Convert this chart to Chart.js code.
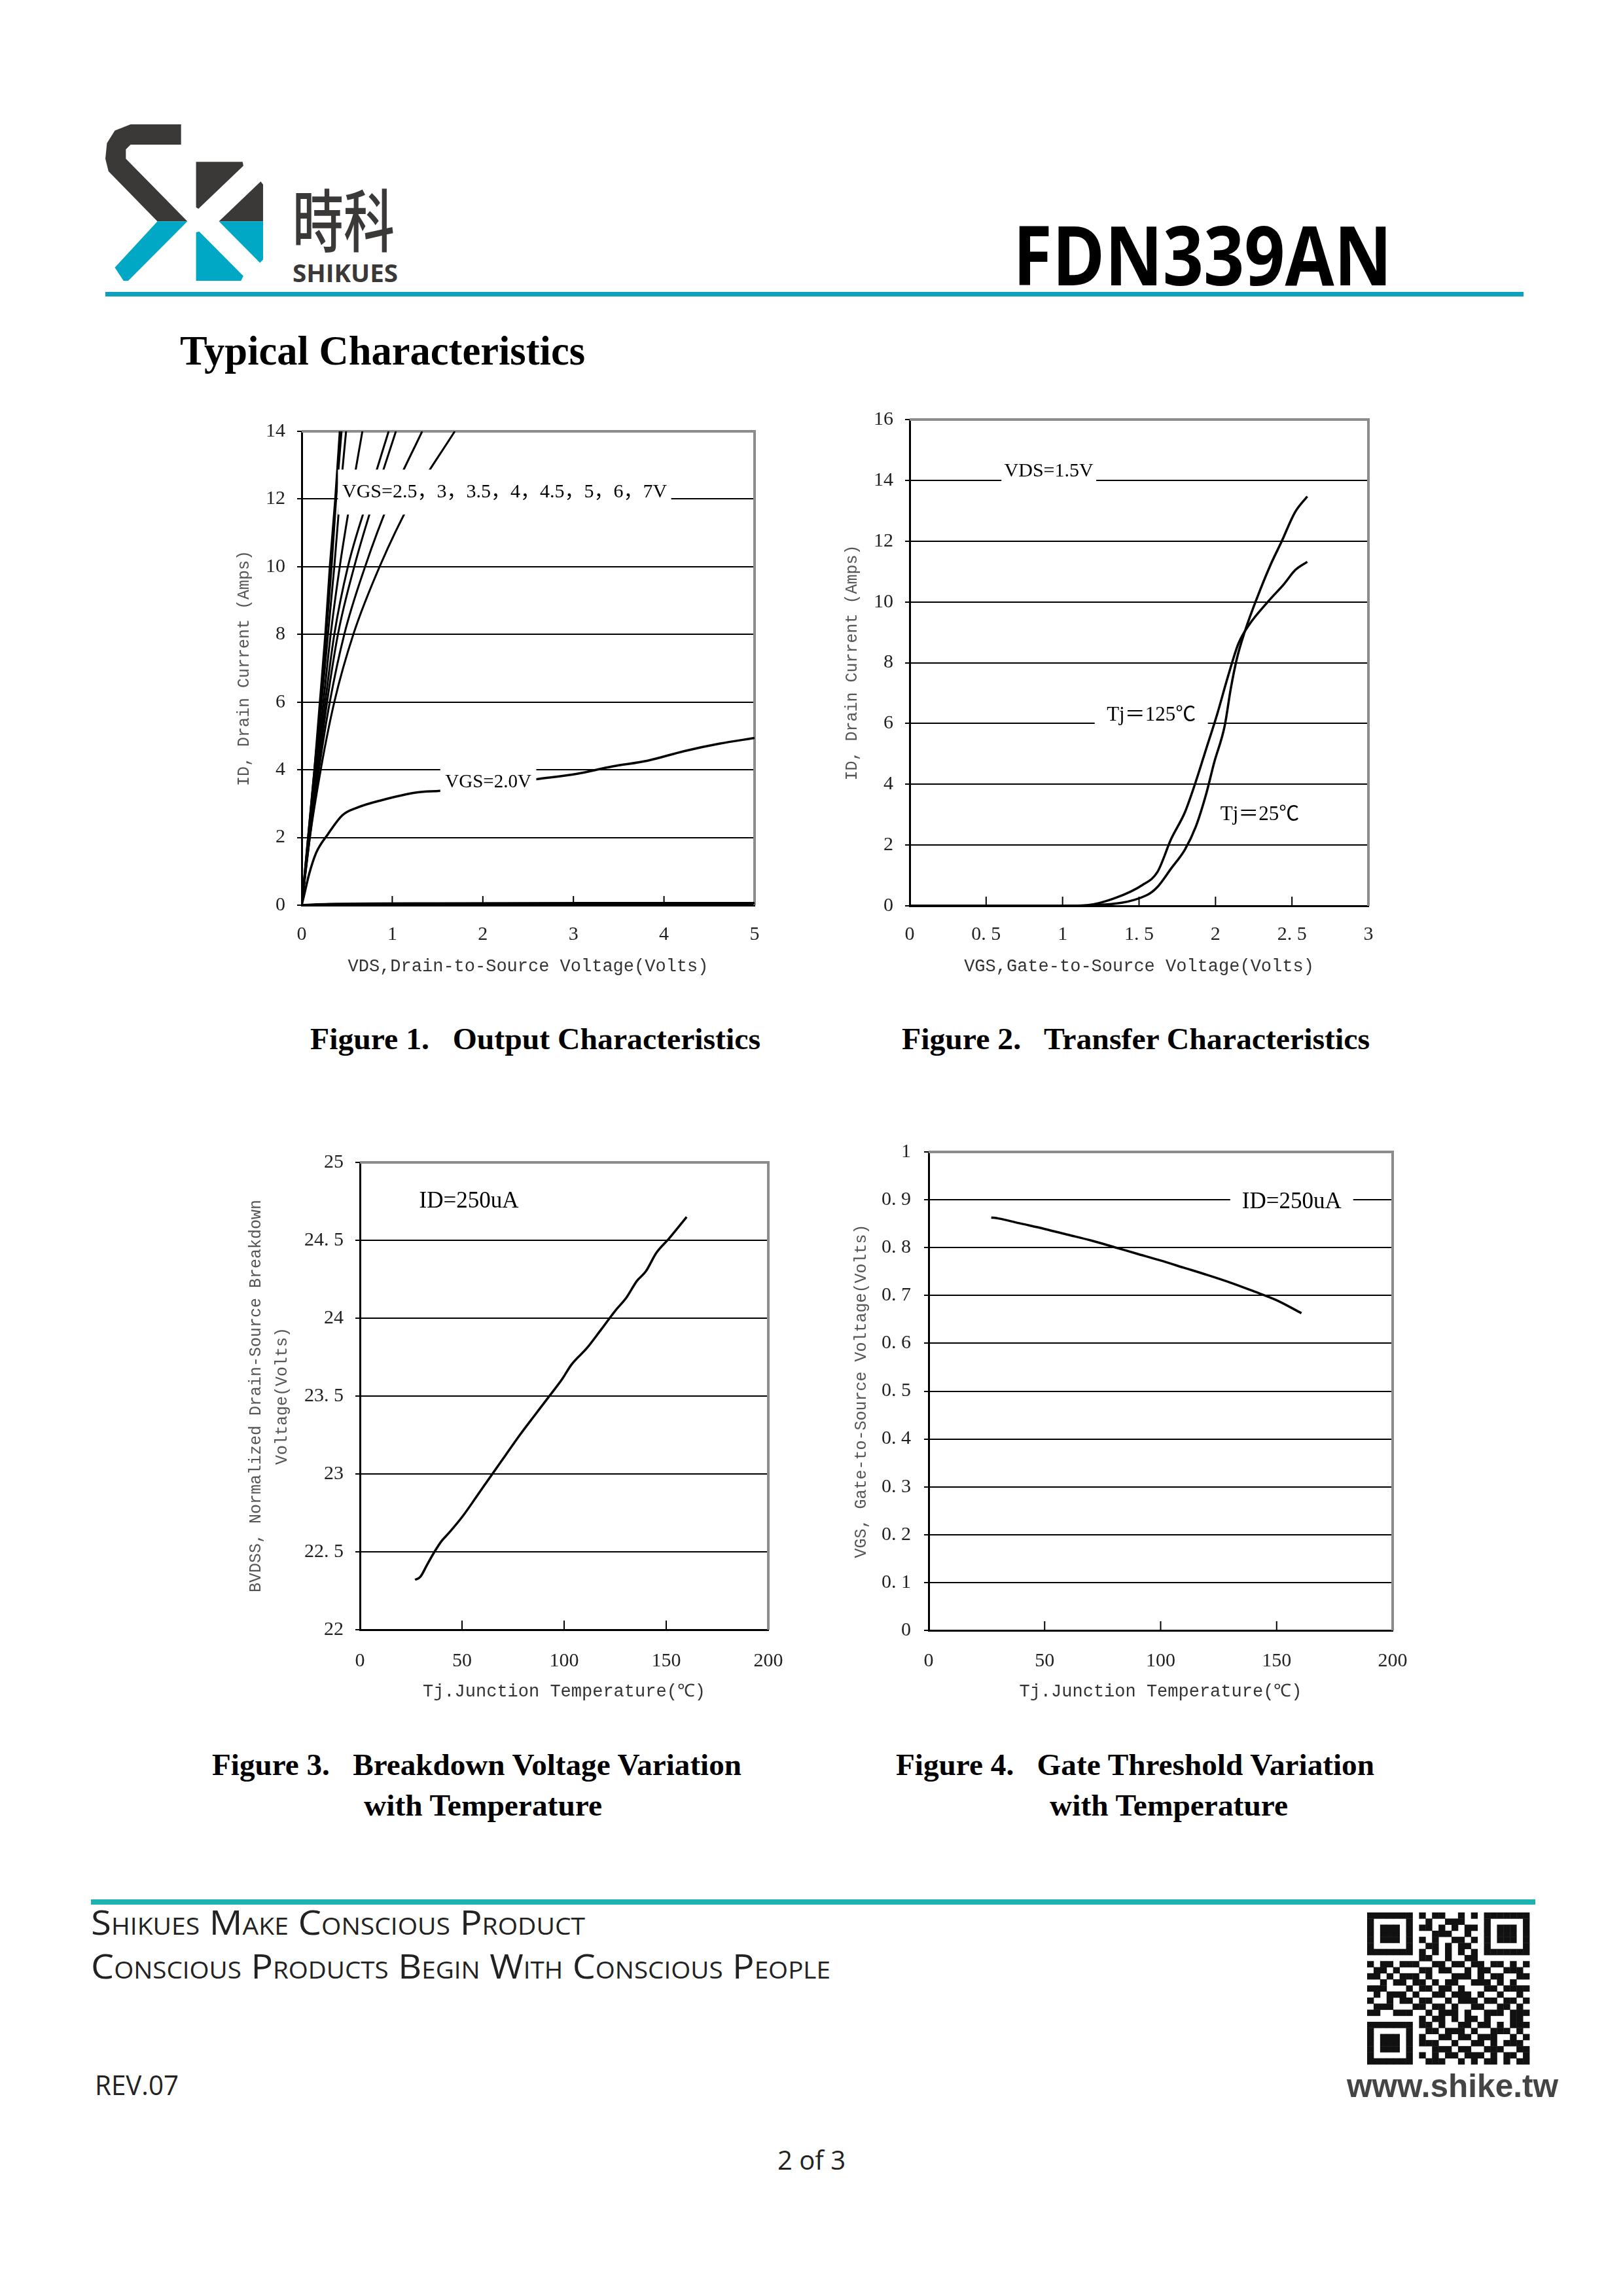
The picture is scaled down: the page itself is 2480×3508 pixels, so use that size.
<!DOCTYPE html>
<html>
<head>
<meta charset="utf-8">
<title>FDN339AN Typical Characteristics</title>
<script src="https://cdn.jsdelivr.net/npm/chart.js@4.4.1/dist/chart.umd.min.js"></script>
<style>
  html, body { margin: 0; padding: 0; background: #fff; }
  #page { position: relative; width: 2480px; height: 3508px; background: #fff; overflow: hidden; }
  #deco { position: absolute; left: 0; top: 0; }
  .plot { position: absolute; }
  .pre { white-space: pre; }
</style>
</head>
<body>
<div id="page">
<svg id="deco" width="2480" height="3508" viewBox="0 0 2480 3508" xmlns="http://www.w3.org/2000/svg">
  <!-- logo mark -->
  <g transform="translate(161,190) scale(241,239)">
    <polygon fill="#3b3838" points="0.48,0 0.48,0.13 0.16,0.13 0.13,0.16 0.13,0.22 0.52,0.62 0.33,0.62 0.02,0.30 0,0.22 0.01,0.12 0.06,0.04 0.16,0"/>
    <polygon fill="#00a8c6" points="0.33,0.62 0.52,0.62 0.145,1 0.115,1 0.06,0.915"/>
    <polygon fill="#3b3838" points="0.575,0.24 0.87,0.24 0.875,0.265 0.59,0.54 0.575,0.53"/>
    <polygon fill="#3b3838" points="0.985,0.365 1,0.385 1,0.62 0.72,0.62"/>
    <polygon fill="#00a8c6" points="0.72,0.62 1,0.62 1,0.865 0.98,0.885"/>
    <polygon fill="#00a8c6" points="0.575,0.69 0.595,0.685 0.875,0.97 0.86,1 0.575,1"/>
  </g>
  <text x="447" y="377" font-family="Noto Sans CJK TC" font-weight="500" font-size="104" fill="#3b3838" textLength="156" lengthAdjust="spacingAndGlyphs">時科</text>
  <text x="447" y="431" font-family="Open Sans" font-weight="700" font-size="37" fill="#3b3838" textLength="161" lengthAdjust="spacingAndGlyphs">SHIKUES</text>
  <text x="1548" y="436" font-family="Open Sans" font-weight="700" font-size="125" fill="#000" textLength="579" lengthAdjust="spacingAndGlyphs">FDN339AN</text>
  <rect x="161" y="446" width="2167" height="7" fill="#0fa0c0"/>
  <text x="275" y="557" font-family="Liberation Serif" font-weight="700" font-size="64" fill="#000" textLength="619" lengthAdjust="spacingAndGlyphs">Typical Characteristics</text>

  <!-- figure captions -->
  <g font-family="Liberation Serif" font-weight="700" font-size="46" fill="#000">
    <text class="pre" x="474" y="1603" textLength="688" lengthAdjust="spacingAndGlyphs">Figure 1.   Output Characteristics</text>
    <text class="pre" x="1378" y="1603" textLength="715" lengthAdjust="spacingAndGlyphs">Figure 2.   Transfer Characteristics</text>
    <text class="pre" x="324" y="2712" textLength="809" lengthAdjust="spacingAndGlyphs">Figure 3.   Breakdown Voltage Variation</text>
    <text x="556" y="2774" textLength="364" lengthAdjust="spacingAndGlyphs">with Temperature</text>
    <text class="pre" x="1369" y="2712" textLength="731" lengthAdjust="spacingAndGlyphs">Figure 4.   Gate Threshold Variation</text>
    <text x="1604" y="2774" textLength="364" lengthAdjust="spacingAndGlyphs">with Temperature</text>
  </g>

  <!-- footer -->
  <rect x="139" y="2902" width="2207" height="8" fill="#1db3b1"/>
  <g font-family="Open Sans" fill="#222" style="font-variant: small-caps">
    <text x="139" y="2956" font-size="52" textLength="755" lengthAdjust="spacingAndGlyphs">Shikues Make Conscious Product</text>
    <text x="139" y="3023" font-size="52" textLength="1130" lengthAdjust="spacingAndGlyphs">Conscious Products Begin With Conscious People</text>
  </g>
  <text x="145" y="3201" font-family="Open Sans" font-size="42" fill="#222" textLength="128" lengthAdjust="spacingAndGlyphs">REV.07</text>
  <text x="2058" y="3204" font-family="Liberation Sans" font-weight="700" font-size="50" fill="#444" textLength="323" lengthAdjust="spacingAndGlyphs">www.shike.tw</text>
  <text x="1240" y="3315" font-family="Open Sans" font-size="40" fill="#222" text-anchor="middle">2 of 3</text>
  <g id="qr" fill="#111"></g>
</svg>
<canvas id="fig1" class="plot"></canvas>
<canvas id="fig2" class="plot"></canvas>
<canvas id="fig3" class="plot"></canvas>
<canvas id="fig4" class="plot"></canvas>
</div>
<script>
// ---------- Figure 1: output characteristics (ID vs VDS) ----------
const fig1IdSteps = [0, 2, 4, 6, 8, 10, 12, 14];
const fig1Vds70 = [0, 0.07, 0.14, 0.20, 0.26, 0.31, 0.37, 0.42];
const fig1Vds60 = [0, 0.07, 0.14, 0.21, 0.27, 0.33, 0.38, 0.44];
const fig1Vds50 = [0, 0.075, 0.15, 0.22, 0.29, 0.36, 0.42, 0.49];
const fig1Vds45 = [0, 0.08, 0.16, 0.24, 0.32, 0.42, 0.54, 0.67];
const fig1Vds40 = [0, 0.08, 0.17, 0.26, 0.36, 0.51, 0.73, 0.96];
const fig1Vds35 = [0, 0.085, 0.18, 0.28, 0.40, 0.58, 0.80, 1.04];
const fig1Vds30 = [0, 0.09, 0.19, 0.31, 0.47, 0.70, 0.98, 1.33];
const fig1Vds25 = [0, 0.09, 0.21, 0.36, 0.57, 0.86, 1.22, 1.69];
const fig1Vds20 = [0, 0.04, 0.08, 0.16, 0.29, 0.45, 0.61, 0.88, 1.27, 1.53, 2.0, 2.59, 3.04, 3.43, 3.82, 4.22, 4.61, 5.0];
const fig1Id20 = [0, 0.45, 0.9, 1.55, 2.1, 2.66, 2.88, 3.1, 3.33, 3.38, 3.5, 3.72, 3.88, 4.1, 4.27, 4.55, 4.77, 4.94];
const fig1VdsLow = [0, 0.3, 1.5, 3.2, 5.0];
const fig1IdLow = [0, 0.03, 0.05, 0.06, 0.06];
const fig1XTicks = ['0', '1', '2', '3', '4', '5'];
const fig1YTicks = ['0', '2', '4', '6', '8', '10', '12', '14'];

// ---------- Figure 2: transfer characteristics (ID vs VGS) ----------
const fig2Vgs125 = [0, 1.0, 1.16, 1.34, 1.52, 1.62, 1.71, 1.80, 1.87, 1.94, 2.01, 2.08, 2.15, 2.22, 2.34, 2.45, 2.52, 2.6];
const fig2Id125 = [0, 0, 0.02, 0.25, 0.68, 1.11, 2.2, 3.08, 4.07, 5.18, 6.29, 7.52, 8.63, 9.25, 9.99, 10.6, 11.04, 11.32];
const fig2Vgs25 = [0, 1.0, 1.2, 1.55, 1.62, 1.71, 1.80, 1.87, 1.94, 1.99, 2.06, 2.1, 2.14, 2.19, 2.27, 2.36, 2.43, 2.52, 2.6];
const fig2Id25 = [0, 0, 0.02, 0.35, 0.62, 1.23, 1.85, 2.59, 3.7, 4.69, 5.92, 7.15, 8.14, 9.0, 10.11, 11.22, 11.96, 12.95, 13.47];
const fig2XTicks = ['0', '0. 5', '1', '1. 5', '2', '2. 5', '3'];
const fig2YTicks = ['0', '2', '4', '6', '8', '10', '12', '14', '16'];

// ---------- Figure 3: breakdown voltage vs Tj ----------
const fig3Tj = [27, 29.6, 33, 36.5, 40, 43.5, 50.4, 57.4, 64.3, 71.3, 78.3, 85.2, 92.2, 99.1, 103.5, 111.3, 118.3, 125.2, 130.4, 135.7, 140, 145.2, 151.3, 155.7, 160];
const fig3Bv = [22.32, 22.34, 22.42, 22.5, 22.57, 22.62, 22.73, 22.86, 22.99, 23.12, 23.25, 23.37, 23.49, 23.61, 23.7, 23.81, 23.93, 24.05, 24.13, 24.24, 24.3, 24.42, 24.51, 24.58, 24.65];
const fig3XTicks = ['0', '50', '100', '150', '200'];
const fig3YTicks = ['22', '22. 5', '23', '23. 5', '24', '24. 5', '25'];

// ---------- Figure 4: gate threshold vs Tj ----------
const fig4Tj = [27, 30, 40, 50, 60, 70, 80, 90, 100, 110, 120, 130, 140, 150, 160.7];
const fig4Vth = [0.863, 0.861, 0.850, 0.839, 0.827, 0.815, 0.801, 0.787, 0.773, 0.758, 0.743, 0.727, 0.709, 0.690, 0.663];
const fig4XTicks = ['0', '50', '100', '150', '200'];
const fig4YTicks = ['0', '0. 1', '0. 2', '0. 3', '0. 4', '0. 5', '0. 6', '0. 7', '0. 8', '0. 9', '1'];

// text notes inside the plots (data coordinates)
const fig1Notes = [
  { text: 'VGS=2.5，3，3.5，4，4.5，5，6，7V', x0: 0.40, x1: 4.08, y: 12.2, yLo: 11.54, yHi: 12.87, size: 30 },
  { text: 'VGS=2.0V', x0: 1.53, x1: 2.59, y: 3.62, yLo: 3.28, yHi: 4.1, size: 29 }
];
const fig2Notes = [
  { text: 'VDS=1.5V', x0: 0.6, x1: 1.22, y: 14.3, yLo: 13.8, yHi: 14.8, size: 30 },
  { text: 'Tj＝125℃', x0: 1.21, x1: 1.95, y: 6.27, yLo: 5.8, yHi: 6.75, size: 31 },
  { text: 'Tj＝25℃', x0: 2.0, x1: 2.58, y: 3.0, yLo: 2.6, yHi: 3.4, size: 31 }
];
const fig3Notes = [
  { text: 'ID=250uA', x0: 28.7, x1: 78, y: 24.75, size: 35 }
];
const fig4Notes = [
  { text: 'ID=250uA', x0: 130, x1: 183, y: 0.895, yLo: 0.87, yHi: 0.922, size: 35 }
];

// plot boxes on the page [left, top, right, bottom] and label anchors
const fig1Box = { plot: [461, 659, 1153, 1383], yTickRight: 436, yTitleX: 373, xTickY: 1428, xTitleY: 1477 };
const fig2Box = { plot: [1390, 641, 2091, 1384], yTickRight: 1365, yTitleX: 1302, xTickY: 1428, xTitleY: 1477 };
const fig3Box = { plot: [550, 1776, 1174, 2490], yTickRight: 525, yTitleX: 391, xTickY: 2538, xTitleY: 2585 };
const fig4Box = { plot: [1419, 1760, 2128, 2491], yTickRight: 1392, yTitleX: 1316, xTickY: 2538, xTitleY: 2585 };

function toPoints(xs, ys) {
  return xs.map((x, i) => ({ x: x, y: ys[i] }));
}

function curve(points, width) {
  return {
    data: points,
    borderColor: '#000',
    borderWidth: width || 3.5,
    pointRadius: 0,
    fill: false,
    cubicInterpolationMode: 'monotone'
  };
}

const framePlugin = {
  id: 'frame',
  beforeDatasetsDraw(chart) {
    const { ctx, chartArea: a } = chart;
    const xs = chart.scales.x;
    ctx.save();
    ctx.strokeStyle = '#8c8c8c';
    ctx.lineWidth = 4;
    ctx.beginPath();
    ctx.moveTo(a.left, a.top);
    ctx.lineTo(a.right, a.top);
    ctx.lineTo(a.right, a.bottom);
    ctx.stroke();
    // short tick marks pointing into the plot on the x axis
    ctx.strokeStyle = '#000';
    ctx.lineWidth = 2;
    xs.ticks.forEach(t => {
      const px = xs.getPixelForValue(t.value);
      if (px > a.left + 3 && px < a.right - 3) {
        ctx.beginPath();
        ctx.moveTo(px, a.bottom);
        ctx.lineTo(px, a.bottom - 14);
        ctx.stroke();
      }
    });
    ctx.restore();
  }
};

function notesPlugin(notes) {
  return {
    id: 'notes',
    afterDatasetsDraw(chart) {
      const { ctx } = chart;
      const xs = chart.scales.x, ys = chart.scales.y;
      ctx.save();
      notes.forEach(n => {
        const x0 = xs.getPixelForValue(n.x0);
        const x1 = xs.getPixelForValue(n.x1);
        const yc = ys.getPixelForValue(n.y);
        if (n.yLo !== undefined) {
          const yTop = ys.getPixelForValue(n.yHi);
          const yBot = ys.getPixelForValue(n.yLo);
          ctx.fillStyle = '#fff';
          ctx.fillRect(x0, yTop, x1 - x0, yBot - yTop);
        }
        ctx.font = n.size + 'px "Liberation Serif", "Noto Sans CJK SC", serif';
        ctx.fillStyle = '#000';
        ctx.textAlign = 'center';
        ctx.textBaseline = 'middle';
        ctx.fillText(n.text, (x0 + x1) / 2, yc, x1 - x0);
      });
      ctx.restore();
    }
  };
}

function drawFigure(id, box, spec) {
  const [l, t, r, b] = box.plot;
  const yW = 200, padT = 40, padR = 60, xH = 150;
  const w = yW + (r - l) + padR;
  const h = padT + (b - t) + xH;
  const cv = document.getElementById(id);
  cv.width = w;
  cv.height = h;
  cv.style.left = (l - yW) + 'px';
  cv.style.top = (t - padT) + 'px';
  cv.style.width = w + 'px';
  cv.style.height = h + 'px';

  const tickSize = 30;
  const tickLh = tickSize * 1.2;
  const tickLen = 7;
  const xTitleSize = 27, xTitleLh = 27 * 1.2;
  const yTitleSize = spec.yTitleSize;
  const yTitleLh = yTitleSize * spec.yTitleLine;

  return new Chart(cv, {
    type: 'line',
    data: { datasets: spec.datasets },
    options: {
      responsive: false,
      animation: false,
      devicePixelRatio: 1,
      layout: { padding: { top: padT, right: padR, left: 0, bottom: 0 } },
      plugins: { legend: { display: false }, tooltip: { enabled: false } },
      scales: {
        x: {
          type: 'linear',
          position: 'bottom',
          min: spec.xMin, max: spec.xMax,
          afterFit: s => { s.height = xH; },
          grid: { display: false, drawTicks: false },
          border: { display: true, color: '#000', width: 3 },
          ticks: {
            stepSize: spec.xStep,
            autoSkip: false,
            maxRotation: 0,
            padding: box.xTickY - b - tickLh / 2,
            color: '#222',
            font: { family: 'Liberation Serif', size: tickSize },
            callback: v => spec.xLabels[Math.round((v - spec.xMin) / spec.xStep)]
          },
          title: {
            display: true,
            text: spec.xTitle,
            color: '#333',
            font: { family: 'Liberation Mono', size: xTitleSize },
            padding: { top: 0, bottom: (b + xH) - box.xTitleY - xTitleLh / 2 }
          }
        },
        y: {
          type: 'linear',
          min: spec.yMin, max: spec.yMax,
          afterFit: s => { s.width = yW; },
          grid: { color: '#000', lineWidth: 2, drawTicks: true, tickLength: tickLen },
          border: { display: true, color: '#000', width: 3 },
          ticks: {
            stepSize: spec.yStep,
            autoSkip: false,
            padding: l - box.yTickRight - tickLen,
            color: '#222',
            font: { family: 'Liberation Serif', size: tickSize },
            callback: v => spec.yLabels[Math.round((v - spec.yMin) / spec.yStep)]
          },
          title: {
            display: true,
            text: spec.yTitle,
            color: '#555',
            font: { family: 'Liberation Mono', size: yTitleSize, lineHeight: spec.yTitleLine },
            padding: { top: box.yTitleX - (l - yW) - yTitleLh / 2, bottom: 0 }
          }
        }
      }
    },
    plugins: [framePlugin, notesPlugin(spec.notes)]
  });
}

Chart.defaults.font.family = 'Liberation Serif';

drawFigure('fig1', fig1Box, {
  xMin: 0, xMax: 5, xStep: 1, xLabels: fig1XTicks,
  yMin: 0, yMax: 14, yStep: 2, yLabels: fig1YTicks,
  xTitle: 'VDS,Drain-to-Source Voltage(Volts)',
  yTitle: 'ID, Drain Current (Amps)', yTitleSize: 25, yTitleLine: 1.2,
  notes: fig1Notes,
  datasets: [
    curve(toPoints(fig1VdsLow, fig1IdLow), 4),
    curve(toPoints(fig1Vds20, fig1Id20)),
    curve(toPoints(fig1Vds25, fig1IdSteps), 3),
    curve(toPoints(fig1Vds30, fig1IdSteps), 3),
    curve(toPoints(fig1Vds35, fig1IdSteps), 3),
    curve(toPoints(fig1Vds40, fig1IdSteps), 3),
    curve(toPoints(fig1Vds45, fig1IdSteps), 3),
    curve(toPoints(fig1Vds50, fig1IdSteps), 3),
    curve(toPoints(fig1Vds60, fig1IdSteps), 3),
    curve(toPoints(fig1Vds70, fig1IdSteps), 3)
  ]
});

drawFigure('fig2', fig2Box, {
  xMin: 0, xMax: 3, xStep: 0.5, xLabels: fig2XTicks,
  yMin: 0, yMax: 16, yStep: 2, yLabels: fig2YTicks,
  xTitle: 'VGS,Gate-to-Source Voltage(Volts)',
  yTitle: 'ID, Drain Current (Amps)', yTitleSize: 25, yTitleLine: 1.2,
  notes: fig2Notes,
  datasets: [
    curve(toPoints(fig2Vgs125, fig2Id125)),
    curve(toPoints(fig2Vgs25, fig2Id25))
  ]
});

drawFigure('fig3', fig3Box, {
  xMin: 0, xMax: 200, xStep: 50, xLabels: fig3XTicks,
  yMin: 22, yMax: 25, yStep: 0.5, yLabels: fig3YTicks,
  xTitle: 'Tj.Junction Temperature(℃)',
  yTitle: ['BVDSS, Normalized Drain-Source Breakdown', 'Voltage(Volts)'], yTitleSize: 25, yTitleLine: 1.6,
  notes: fig3Notes,
  datasets: [curve(toPoints(fig3Tj, fig3Bv))]
});

drawFigure('fig4', fig4Box, {
  xMin: 0, xMax: 200, xStep: 50, xLabels: fig4XTicks,
  yMin: 0, yMax: 1, yStep: 0.1, yLabels: fig4YTicks,
  xTitle: 'Tj.Junction Temperature(℃)',
  yTitle: 'VGS, Gate-to-Source Voltage(Volts)', yTitleSize: 25, yTitleLine: 1.2,
  notes: fig4Notes,
  datasets: [curve(toPoints(fig4Tj, fig4Vth))]
});

// ---------- QR code decoration in the footer ----------
const qrRows = [
  '1111111010110010101111111',
  '1000001001001110001000001',
  '1011101011010101101011101',
  '1011101000111001001011101',
  '1011101010100110101011101',
  '1000001001101011001000001',
  '1111111010101010101111111',
  '0000000011001001100000000',
  '1011011100110110110110101',
  '0110100011011001011001110',
  '1101011101000111010110011',
  '0010110110101100111010100',
  '1110001011011010001101111',
  '0101110100110111010010010',
  '1001011011001011101101101',
  '0111000110110100110011010',
  '1100111001011101001110111',
  '0000000010110101101000110',
  '1111111011010011011010111',
  '1000001001101110100111010',
  '1011101010011011011100101',
  '1011101011100100110101110',
  '1011101000111011001110011',
  '1000001010101101110101101',
  '1111111001110010101101011'
];
(function drawQr() {
  const g = document.getElementById('qr');
  const x0 = 2089, y0 = 2922, cw = 248 / 25, ch = 232 / 25;
  qrRows.forEach((row, r) => {
    for (let c = 0; c < row.length; c++) {
      if (row[c] === '1') {
        const rect = document.createElementNS('http://www.w3.org/2000/svg', 'rect');
        rect.setAttribute('x', (x0 + c * cw).toFixed(2));
        rect.setAttribute('y', (y0 + r * ch).toFixed(2));
        rect.setAttribute('width', (cw + 0.4).toFixed(2));
        rect.setAttribute('height', (ch + 0.4).toFixed(2));
        g.appendChild(rect);
      }
    }
  });
})();
</script>
</body>
</html>
